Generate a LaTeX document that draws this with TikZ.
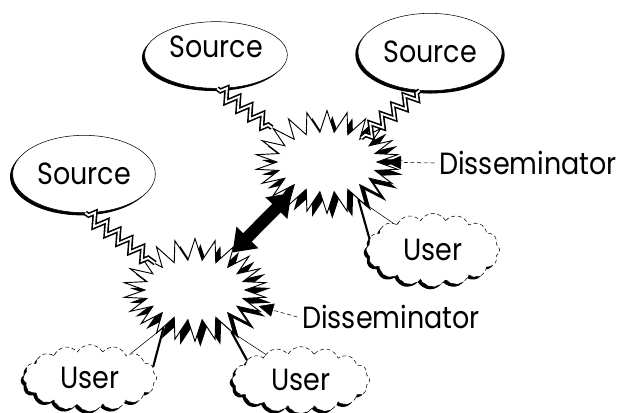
\documentclass[tikz,border=0pt]{standalone}
\usepackage{fontspec}
\newfontfamily\gothic[FakeStretch=0.88]{Poppins}
\usetikzlibrary{shapes.geometric,shapes.symbols,shadows,arrows.meta,decorations.pathmorphing}

\begin{document}
\begin{tikzpicture}[x=0.75pt,y=-0.75pt,
    every node/.style={font=\gothic\fontsize{23}{23}\selectfont},
    source/.style={ellipse, draw, thin, fill=white, inner sep=0pt,
        drop shadow={shadow xshift=-2pt, shadow yshift=-2pt, fill=black, opacity=1}},
    user/.style={cloud, cloud puffs=16, cloud puff arc=120, aspect=2, draw, densely dashed, thin,
        fill=white, inner sep=0pt,
        drop shadow={shadow xshift=-2pt, shadow yshift=-2pt, fill=black, opacity=1}},
    burst/.style={starburst, starburst points=22, starburst point height=16pt, random starburst=0,
        draw, line width=0.7pt, fill=white, minimum width=107pt, minimum height=77pt,
        drop shadow={shadow xshift=4pt, shadow yshift=-4pt, fill=black, opacity=1}},
    bolt/.style={line width=1.2pt, double=white, double distance=1.4pt, decorate,
        decoration={zigzag, segment length=11pt, amplitude=4.5pt, pre length=3pt, post length=3pt}},
    pointer/.style={densely dashed, thin, -{Triangle[length=11pt,width=10pt]}, shorten >=6pt},
  ]
  \useasboundingbox (0,0) rectangle (621,412);

  %the two disseminators
  \node[burst] (d1) at (327,162) {};
  \node[burst] (d2) at (195,290) {};

  %sources
  \node[source, minimum width=107pt, minimum height=50pt, text depth=13pt] (s1) at (216,55) {Source};
  \node[source, minimum width=108pt, minimum height=58pt,
        drop shadow={shadow xshift=2pt, shadow yshift=-2pt, fill=black, opacity=1}] (s2) at (430,52) {Source};
  \node[source, minimum width=107pt, minimum height=58pt] (s3) at (84,174) {Source};

  %users
  \node[user, minimum width=100pt, minimum height=55pt] (u1) at (433,250) {User};
  \node[user, minimum width=100pt, minimum height=50pt] (u2) at (90,378) {User};
  \node[user, minimum width=103pt, minimum height=50pt] (u3) at (301,380) {User};

  %labels
  \node (l1) at (528,163) {Disseminator};
  \node (l2) at (391,317) {Disseminator};

  %lightning tails from the sources
  \draw[bolt] (s1.-88) -- (d1.148);
  \draw[bolt] (s2.-105) -- (d1.35);
  \draw[bolt] (s3.-88) -- (d2.146);

  %tails of the users
  \draw[thin] (d1.-50) -- (u1.146);
  \draw[line width=1.6pt] (d1.-50) -- (u1.170);
  \draw[thin] (d2.-130) -- (u2.31);
  \draw[line width=1.6pt] (d2.-130) -- (u2.10);
  \draw[thin] (d2.-49) -- (u3.144);
  \draw[line width=1.6pt] (d2.-49) -- (u3.160);

  %exchange between disseminators
  \draw[line width=9pt, {Triangle[length=16pt,width=22pt]}-{Triangle[length=16pt,width=22pt]}]
    (d2.45) -- (d1.221);

  \draw[pointer] (l1.west) -- (d1.east);
  \draw[pointer] (l2.west) -- (d2.-14);
\end{tikzpicture}
\end{document}
